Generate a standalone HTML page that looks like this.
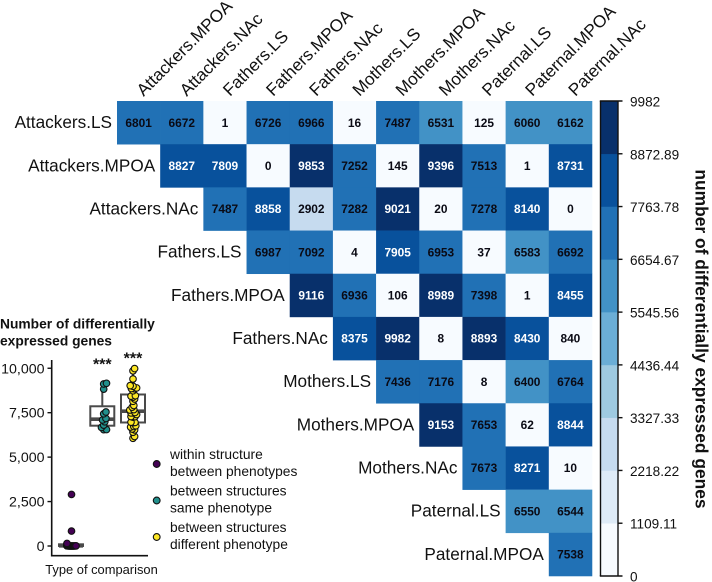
<!DOCTYPE html>
<html>
<head>
<meta charset="utf-8">
<title>Differentially expressed genes</title>
<style>
html,body{margin:0;padding:0;background:#fff;}
svg{display:block;font-family:"Liberation Sans",Arial,sans-serif;}
text{fill:#111;}
</style>
</head>
<body>
<svg id="chart" width="712" height="582" viewBox="0 0 712 582" xmlns="http://www.w3.org/2000/svg"></svg>
<script>
const rowLabels = ["Attackers.LS","Attackers.MPOA","Attackers.NAc","Fathers.LS","Fathers.MPOA","Fathers.NAc","Mothers.LS","Mothers.MPOA","Mothers.NAc","Paternal.LS","Paternal.MPOA"];
const colLabels = ["Attackers.MPOA","Attackers.NAc","Fathers.LS","Fathers.MPOA","Fathers.NAc","Mothers.LS","Mothers.MPOA","Mothers.NAc","Paternal.LS","Paternal.MPOA","Paternal.NAc"];
const row0 = [6801,6672,1,6726,6966,16,7487,6531,125,6060,6162];
const row1 = [8827,7809,0,9853,7252,145,9396,7513,1,8731];
const row2 = [7487,8858,2902,7282,9021,20,7278,8140,0];
const row3 = [6987,7092,4,7905,6953,37,6583,6692];
const row4 = [9116,6936,106,8989,7398,1,8455];
const row5 = [8375,9982,8,8893,8430,840];
const row6 = [7436,7176,8,6400,6764];
const row7 = [9153,7653,62,8844];
const row8 = [7673,8271,10];
const row9 = [6550,6544];
const row10 = [7538];
const matrixRows = [row0,row1,row2,row3,row4,row5,row6,row7,row8,row9,row10];
const colorbarTicks = ["0","1109.11","2218.22","3327.33","4436.44","5545.56","6654.67","7763.78","8872.89","9982"];
const binColors = ["#f7fbff","#deebf7","#c6dbef","#9ecae1","#6baed6","#4292c6","#2171b5","#08519c","#08306b"];
const yTicks = [0,2500,5000,7500,10000];
const yTickLabels = ["0","2,500","5,000","7,500","10,000"];
const legendLines = [["within structure","between phenotypes"],["between structures","same phenotype"],["between structures","different phenotype"]];
const groupColors = ["#440154","#21908c","#fde725"];

const svg = document.getElementById('chart');
const NS = 'http://www.w3.org/2000/svg';
function mk(tag, attrs, txt, parent){
  const e = document.createElementNS(NS, tag);
  for (const k in attrs) e.setAttribute(k, attrs[k]);
  if (txt !== undefined) e.textContent = txt;
  (parent || svg).appendChild(e);
  return e;
}
/* heatmap */
const gx0 = 117, gy0 = 101, cw = 43.18, ch = 43.18;
const cbMax = parseFloat(colorbarTicks[colorbarTicks.length - 1]);
const nBins = binColors.length;
function binOf(v){ return Math.min(nBins - 1, Math.floor(v / cbMax * nBins)); }
const heat = mk('g', {});


matrixRows.forEach((vals, r) => {
  const lab = mk('text', {x: gx0 + r * cw - 5, y: gy0 + r * ch + ch / 2 + 5.5, 'text-anchor': 'end', 'font-size': 17.2}, rowLabels[r]);
  
  
  vals.forEach((v, i) => {
    const c = r + i;
    const b = binOf(v);
    const rect = mk('rect', {x: gx0 + c * cw, y: gy0 + r * ch, width: cw + 0.3, height: ch + 0.3, fill: binColors[b]}, undefined, heat);
    
    
  });
});
matrixRows.forEach((vals, r) => {
  vals.forEach((v, i) => {
    const c = r + i;
    const b = binOf(v);
    const t = mk('text', {x: gx0 + c * cw + cw / 2, y: gy0 + r * ch + ch / 2 + 4.2, 'text-anchor': 'middle', 'font-size': 11.9, 'font-weight': 'bold', style: 'fill:' + (b >= 7 ? '#fff' : '#0a0a14')}, String(v), heat);
    
    
  });
});
colLabels.forEach((name, c) => {
  const px = gx0 + c * cw + cw / 2 + 5, py = 97;
  const t = mk('text', {x: px, y: py, 'font-size': 17.2, transform: 'rotate(-45 ' + px + ' ' + py + ')'}, name);
  
  
});
/* colorbar */
const cbX = 600.5, cbW = 17.5, cbTop = 101, cbBot = 576;
function cbY(v){ return cbBot - v / cbMax * (cbBot - cbTop); }
binColors.forEach((col, i) => {
  const yHi = cbY((i + 1) * cbMax / nBins), yLo = cbY(i * cbMax / nBins);
  const r = mk('rect', {x: cbX, y: yHi, width: cbW, height: yLo - yHi + 0.3, fill: col});
  
  
});
const cbFrame = mk('path', {d: 'M' + cbX + ' ' + cbTop + 'V' + cbBot + 'M' + (cbX + cbW) + ' ' + cbTop + 'V' + cbBot, stroke: '#111', 'stroke-width': 1.4, fill: 'none'});


colorbarTicks.forEach((lab) => {
  const v = parseFloat(lab), y = cbY(v);
  const edge = v === 0 || v === cbMax;
  const tick = mk('line', {x1: edge ? cbX - 0.7 : cbX + cbW, x2: cbX + cbW + 4.5, y1: y, y2: y, stroke: '#111', 'stroke-width': 1.4});
  
  
  const t = mk('text', {x: 630, y: y + 5.5, 'font-size': 13.6}, lab);
  
  
});
const cbTitle = mk('text', {x: 695.5, y: 339, 'font-size': 17.4, 'font-weight': 'bold', 'text-anchor': 'middle', transform: 'rotate(90 695.5 339)'}, 'number of differentially expressed genes');



/* inset: derive comparison groups from the matrix */
const within = [], samePheno = [], diffPheno = [];
matrixRows.forEach((vals, r) => {
  const [p1, s1] = rowLabels[r].split('.');
  vals.forEach((v, i) => {
    const [p2, s2] = colLabels[r + i].split('.');
    if (s1 === s2) within.push(v);
    else if (p1 === p2) samePheno.push(v);
    else diffPheno.push(v);
  });
});
const groups = [within, samePheno, diffPheno];
function yS(v){ return 546 - v * 0.017775; }
const boxX = [71, 102.3, 133];
const swarmX = [71.5, 103.7, 133];
const swarmHalf = [4.5, 2.8, 3.6];
const starGap = [0, 13.7, 5.2];
const t1 = mk('text', {x: 0, y: 328.5, 'font-size': 13.8, 'font-weight': 'bold'}, 'Number of differentially');


const t2 = mk('text', {x: 0, y: 345.5, 'font-size': 13.8, 'font-weight': 'bold'}, 'expressed genes');


const axes = mk('path', {d: 'M51.7 360V555.7H148', fill: 'none', stroke: '#111', 'stroke-width': 1.6});


yTicks.forEach((v, i) => {
  const tick = mk('line', {x1: 47.5, x2: 51.7, y1: yS(v), y2: yS(v), stroke: '#111', 'stroke-width': 1.4});
  
  
  const t = mk('text', {x: 44.5, y: yS(v) + 5, 'text-anchor': 'end', 'font-size': 14.2}, yTickLabels[i]);
  
  
});
const xl = mk('text', {x: 101.5, y: 574, 'text-anchor': 'middle', 'font-size': 12.9}, 'Type of comparison');



function quant(sorted, q){
  const h = (sorted.length - 1) * q, lo = Math.floor(h), hi = Math.ceil(h);
  return sorted[lo] + (h - lo) * (sorted[hi] - sorted[lo]);
}
groups.forEach((vals, g) => {
  const s = vals.slice().sort((a, b) => a - b);
  const q1 = quant(s, .25), med = quant(s, .5), q3 = quant(s, .75), iqr = q3 - q1;
  const wHi = Math.max(...s.filter(v => v <= q3 + 1.5 * iqr));
  const wLo = Math.min(...s.filter(v => v >= q1 - 1.5 * iqr));
  const cx = boxX[g], hw = 12;
  const whisk = mk('path', {d: 'M' + cx + ' ' + yS(q3) + 'V' + yS(wHi) + 'M' + cx + ' ' + yS(q1) + 'V' + yS(wLo), stroke: '#4a4a4a', 'stroke-width': 2, fill: 'none'});
  
  
  const box = mk('rect', {x: cx - hw, y: yS(q3), width: 2 * hw, height: Math.max(0.1, yS(q1) - yS(q3)), fill: '#fff', stroke: '#4a4a4a', 'stroke-width': 2});
  
  
  const ml = mk('line', {x1: cx - hw, x2: cx + hw, y1: yS(med), y2: yS(med), stroke: '#4a4a4a', 'stroke-width': 3.6});
  
  
  /* swarm: spread overlapping values, then compress into the group's width */
  const placed = [];
  const minD = 3.6;
  s.forEach((v) => {
    const y = yS(v);
    let off = 0, k = 0;
    while (placed.some(p => Math.hypot(p.x - off, p.y - y) < minD) && k < 40) {
      k++;
      off = (k % 2 ? 1 : -1) * Math.ceil(k / 2) * 0.8;
    }
    placed.push({x: off, y: y});
  });
  const widest = Math.max(0.01, ...placed.map(p => Math.abs(p.x)));
  const shrink = Math.min(1, swarmHalf[g] / widest);
  placed.forEach((p) => {
    const c = mk('circle', {cx: swarmX[g] + p.x * shrink, cy: p.y, r: 3.3, fill: groupColors[g], stroke: '#111', 'stroke-width': 1.1});
    
    
  });
  if (g > 0) {
    const st = mk('text', {x: cx, y: yS(s[s.length - 1]) - starGap[g], 'text-anchor': 'middle', 'font-size': 16, 'font-weight': 'bold'}, '***');
    
    
  }
});
/* legend */
legendLines.forEach((lines, i) => {
  const base = 464 + i * 36.5;
  const dot = mk('circle', {cx: 156.7, cy: base, r: 3.4, fill: groupColors[i], stroke: '#111', 'stroke-width': 1.1});
  
  
  lines.forEach((ln, j) => {
    const t = mk('text', {x: 170, y: base - 5 + j * 16.8, 'font-size': 13.8}, ln);
    
    
  });
});
</script>
</body>
</html>
